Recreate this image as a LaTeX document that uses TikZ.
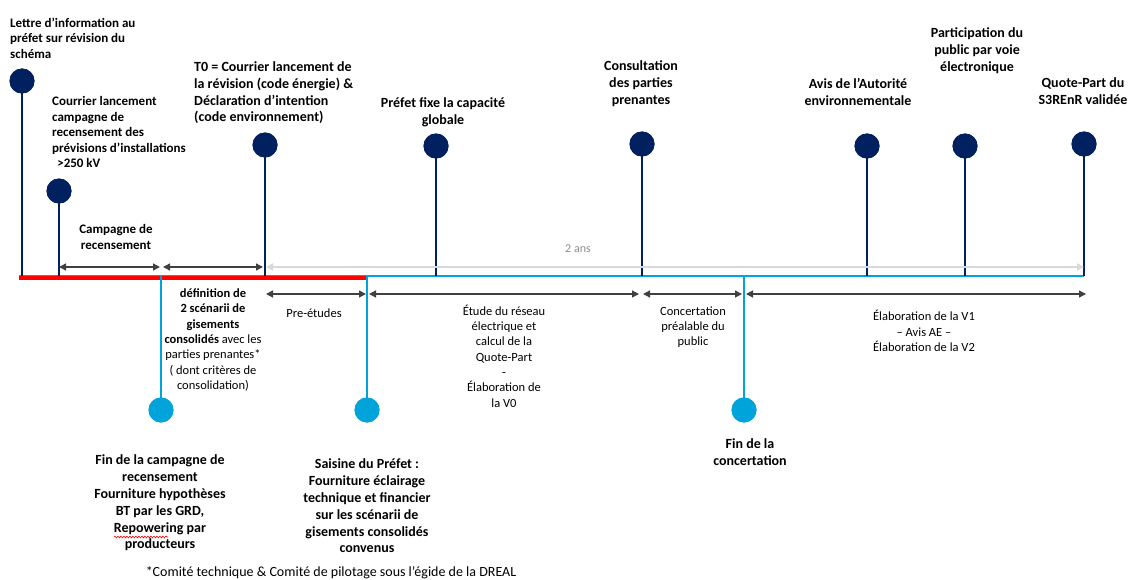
\documentclass[tikz,border=0pt]{standalone}
\usepackage{fontspec}
\setmainfont{Carlito}
\usetikzlibrary{arrows.meta,decorations.pathmorphing}
\definecolor{navy}{RGB}{0,32,96}
\definecolor{lblue}{RGB}{0,163,218}
\definecolor{lgray}{RGB}{217,217,217}
\definecolor{agray}{RGB}{64,64,64}
\definecolor{tgray}{RGB}{140,140,140}
\begin{document}
\begin{tikzpicture}[x=1pt,y=-1pt,
  bigtxt/.style={font=\bfseries\fontsize{14}{17}\selectfont,align=center,inner sep=0pt},
  midtxt/.style={font=\bfseries\fontsize{13}{15.5}\selectfont,align=left,inner sep=0pt},
  smalltxt/.style={font=\fontsize{12.5}{15.3}\selectfont,align=center,inner sep=0pt},
  npin/.style={circle,fill=navy,minimum size=25pt,inner sep=0pt},
  bpin/.style={circle,fill=lblue,minimum size=25pt,inner sep=0pt},
  nstem/.style={draw=navy,line width=2.2pt},
  bstem/.style={draw=lblue,line width=2.2pt},
  span/.style={draw=agray,line width=1.3pt,{Triangle[length=7pt,width=7pt]}-{Triangle[length=7pt,width=7pt]}},
]
\useasboundingbox (0,0) rectangle (1131,580);

% baseline coordinates
\coordinate (s0) at (19,276);
\coordinate (s9) at (1084,276);
\coordinate (r0) at (19,278);
\coordinate (r1) at (367,278);
\foreach \n/\x in {1/22,2/59,3/265,4/436,5/642,6/867,7/965,8/1084,9/161,10/367,11/744}
  \coordinate (b\n) at (\x,276);

% baselines
\draw[lblue,line width=2.5pt] (s0) -- (s9);
\draw[red,line width=3.5pt] (r0) -- (r1);

% navy pins
\node[npin] (p1) at (22,81) {};
\node[npin] (p2) at (59,191) {};
\node[npin] (p3) at (265,145) {};
\node[npin] (p4) at (436,146) {};
\node[npin] (p5) at (642,144) {};
\node[npin] (p6) at (867,146) {};
\node[npin] (p7) at (965,146) {};
\node[npin] (p8) at (1084,144) {};
\foreach \n in {1,...,8} \draw[nstem] (p\n.center) -- (b\n);
\foreach \n in {1,...,8} \node[npin] at (p\n) {};

% blue pins
\node[bpin] (p9) at (161,410) {};
\node[bpin] (p10) at (367,410) {};
\node[bpin] (p11) at (744,410) {};
\foreach \n in {9,10,11} \draw[bstem] (b\n) -- (p\n.center);
\foreach \n in {9,10,11} \node[bpin] at (p\n) {};

% gray two-year arrow
\coordinate (g0) at (266,267);
\coordinate (g1) at (1084,267);
\draw[lgray,line width=2pt,{Triangle[length=7pt,width=7pt]}-{Triangle[length=7pt,width=7pt]}] (g0) -- (g1);
\node[font=\fontsize{12}{14}\selectfont,text=tgray,inner sep=0pt] (ans) at (578,249) {2 ans};

% duration arrows
\coordinate (a1) at (59,267);  \coordinate (a2) at (160,267);
\coordinate (a3) at (163,267); \coordinate (a4) at (263,267);
\coordinate (c1) at (266,294); \coordinate (c2) at (366,294);
\coordinate (c3) at (369,294); \coordinate (c4) at (639,294);
\coordinate (c5) at (643,294); \coordinate (c6) at (742,294);
\coordinate (c7) at (746,294); \coordinate (c8) at (1086,294);
\draw[span] (a1) -- (a2);
\draw[span] (a3) -- (a4);
\draw[span] (c1) -- (c2);
\draw[span] (c3) -- (c4);
\draw[span] (c5) -- (c6);
\draw[span] (c7) -- (c8);

% top labels
\node[midtxt,anchor=west] (t1) at (10,38) {Lettre d'information au\\préfet sur révision du\\schéma};
\node[midtxt,anchor=west] (t2) at (52,132) {Courrier lancement\\campagne de\\recensement des\\prévisions d’installations\\\ \,>250 kV};
\node[bigtxt,align=left,anchor=west,font=\bfseries\fontsize{14}{16.7}\selectfont] (t3) at (194,93) {T0 = Courrier lancement de\\la révision (code énergie) \&\\Déclaration d’intention\\(code environnement)};
\node[bigtxt] (t4) at (443,112) {Préfet fixe la capacité\\globale};
\node[bigtxt] (t5) at (641,84) {Consultation\\des parties\\prenantes};
\node[bigtxt] (t6) at (858,92) {Avis de l’Autorité\\environnementale};
\node[bigtxt] (t7) at (977,51) {Participation du\\public par voie\\électronique};
\node[bigtxt] (t8) at (1083,91) {Quote-Part du\\S3REnR validée};

% span labels
\node[midtxt,align=center] (l1) at (116,237) {Campagne de\\recensement};
\node[smalltxt] (l2) at (213,340) {\textbf{définition de}\\\textbf{2 scénarii de}\\\textbf{gisements}\\\textbf{consolidés} avec les\\parties prenantes*\\( dont critères de\\consolidation)};
\node[smalltxt] (l3) at (314,313) {Pre-études};
\node[smalltxt] (l4) at (504,356) {Étude du réseau\\électrique et\\calcul de la\\Quote-Part\\-\\Élaboration de\\la V0};
\node[smalltxt] (l5) at (693,327) {Concertation\\préalable du\\public};
\node[smalltxt] (l6) at (924,331) {Élaboration de la V1\\– Avis AE –\\Élaboration de la V2};

% bottom labels
\node[bigtxt,font=\bfseries\fontsize{14}{16.8}\selectfont] (u1) at (160,503) {Fin de la campagne de\\recensement\\Fourniture hypothèses\\BT par les GRD,\\Repowering par\\producteurs};
\node[bigtxt,font=\bfseries\fontsize{14}{16.8}\selectfont] (u2) at (367,506) {Saisine du Préfet :\\Fourniture éclairage\\technique et financier\\sur les scénarii de\\gisements consolidés\\convenus};
\node[bigtxt] (u3) at (750,452) {Fin de la\\concertation};
\draw[red,line width=0.6pt,decorate,decoration={snake,amplitude=0.9pt,segment length=3pt}] (114,537) -- (168,537);

% footnote
\node[font=\fontsize{14}{16}\selectfont,inner sep=0pt] (fn) at (331,573) {*Comité technique \& Comité de pilotage sous l’égide de la DREAL};
\end{tikzpicture}
\end{document}
